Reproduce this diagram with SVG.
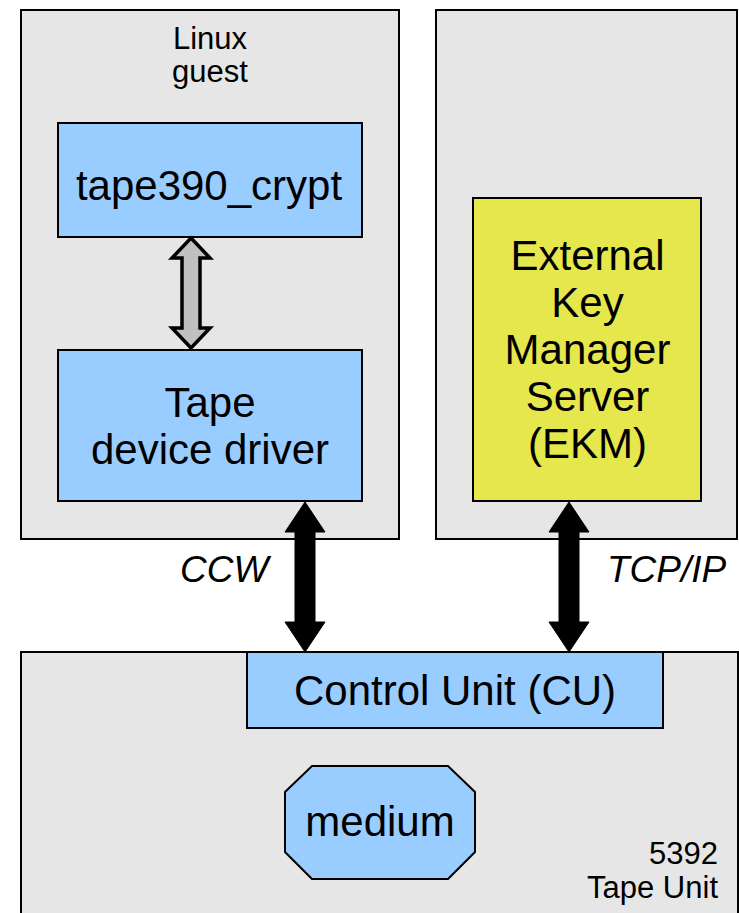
<svg xmlns="http://www.w3.org/2000/svg" width="739" height="913" viewBox="0 0 739 913">
  <style>
    .frame { fill: #e6e6e6; stroke: #000; stroke-width: 2; }
    .blue { fill: #99ccff; stroke: #000; stroke-width: 2; }
    .yellow { fill: #e6e64d; stroke: #000; stroke-width: 2; }
    text { font-family: "Liberation Sans", Arial, sans-serif; fill: #000; }
    .big { font-size: 42px; text-anchor: middle; }
    .small { font-size: 31px; text-anchor: middle; }
    .unit { font-size: 31px; text-anchor: end; }
    .proto { font-size: 37px; font-style: italic; }
    .link { fill: #000; stroke: #000; stroke-width: 1; stroke-linejoin: miter; }
    .local { fill: #c0c0c0; stroke: #000; stroke-width: 3.5; stroke-linejoin: miter; }
  </style>
  <rect width="739" height="913" fill="#fff"/>

  <!-- host and key server frames -->
  <g id="linux-guest">
    <rect class="frame" x="21" y="10" width="378" height="529"/>
    <text class="small" x="210" y="49">Linux</text>
    <text class="small" x="210" y="82">guest</text>
  </g>
  <g id="ekm-host">
    <rect class="frame" x="436" y="10" width="301" height="529"/>
  </g>
  <g id="tape-unit">
    <rect class="frame" x="21" y="652" width="717" height="270"/>
    <text class="unit" x="718" y="864">5392</text>
    <text class="unit" x="718" y="898">Tape Unit</text>
  </g>

  <g id="tape390-crypt">
    <rect class="blue" x="58" y="123" width="304" height="114"/>
    <text class="big" x="209" y="200">tape390_crypt</text>
  </g>
  <g id="tape-driver">
    <rect class="blue" x="58" y="350" width="304" height="151"/>
    <text class="big" x="210" y="417">Tape</text>
    <text class="big" x="210" y="464">device driver</text>
  </g>
  <g id="ekm">
    <rect class="yellow" x="473" y="198" width="228" height="303"/>
    <text class="big" x="587.5" y="270">External</text>
    <text class="big" x="587.5" y="317">Key</text>
    <text class="big" x="587.5" y="364">Manager</text>
    <text class="big" x="587.5" y="411">Server</text>
    <text class="big" x="587.5" y="458">(EKM)</text>
  </g>
  <g id="control-unit">
    <rect class="blue" x="247" y="652" width="416" height="76"/>
    <text class="big" x="455" y="705">Control Unit (CU)</text>
  </g>
  <g id="medium">
    <polygon class="blue" points="312,766 448,766 475,792 475,852 448,879 312,879 285,852 285,792"/>
    <text class="big" x="380" y="836">medium</text>
  </g>

  <!-- connectors -->
  <g id="connectors">
    <polygon class="local" points="191,238 210,258 200,258 200,328 210,328 191,348 172,328 182,328 182,258 172,258"/>
    <polygon class="link" points="305,502 325,532 315,532 315,622 325,622 305,652 285,622 295,622 295,532 285,532"/>
    <polygon class="link" points="569,502 589,532 579,532 579,622 589,622 569,652 549,622 559,622 559,532 549,532"/>
    <text class="proto" x="180" y="582">CCW</text>
    <text class="proto" x="607" y="582">TCP/IP</text>
  </g>
</svg>
